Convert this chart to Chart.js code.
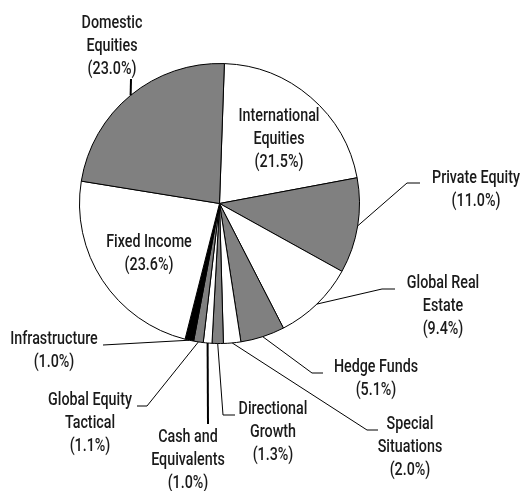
<!DOCTYPE html>
<html>
<head>
<meta charset="utf-8">
<script src="https://cdn.jsdelivr.net/npm/chart.js@4/dist/chart.umd.min.js"></script>
<style>
  html, body { margin: 0; padding: 0; background: #fff; }
  #wrap { width: 526px; height: 491px; }
</style>
</head>
<body>
<div id="wrap"><canvas id="myPieChart" width="526" height="491"></canvas></div>
<script>
// PIE CHART - asset allocation

var categories = [
  "International Equities",
  "Private Equity",
  "Global Real Estate",
  "Hedge Funds",
  "Special Situations",
  "Directional Growth",
  "Cash and Equivalents",
  "Global Equity Tactical",
  "Infrastructure",
  "Fixed Income",
  "Domestic Equities",
];
var allocation = [21.5, 11.0, 9.4, 5.1, 2.0, 1.3, 1.0, 1.1, 1.0, 23.6, 23.0];
var labelLines = [
  ["International", "Equities"],
  ["Private Equity"],
  ["Global Real", "Estate"],
  ["Hedge Funds"],
  ["Special", "Situations"],
  ["Directional", "Growth"],
  ["Cash and", "Equivalents"],
  ["Global Equity", "Tactical"],
  ["Infrastructure"],
  ["Fixed Income"],
  ["Domestic", "Equities"],
];

var WHITE = "#ffffff", GRAY = "#808080", BLACK = "#000000";
var sliceColors = [WHITE, GRAY, WHITE, GRAY, WHITE, GRAY, WHITE, GRAY, BLACK, WHITE, GRAY];

// where each label sits (text centre of first line) and its leader line path
var labelLayout = [
  { x: 279, y: 116, path: [] },
  { x: 476, y: 178, path: [[407, 183], [420, 183]] },
  { x: 443, y: 283, path: [[382, 289], [395, 289]] },
  { x: 376, y: 367, path: [[312, 373], [323, 373]] },
  { x: 410, y: 424, path: [[367, 430], [378, 430]] },
  { x: 273, y: 409, path: [[223, 415], [235, 415]] },
  { x: 188, y: 437, path: [[208, 424]], width: 2 },
  { x: 90, y: 400, path: [[147, 406], [137, 406]] },
  { x: 54, y: 339, path: [[103, 345]] },
  { x: 149, y: 242, path: [] },
  { x: 112, y: 23, path: [[131, 79]], width: 2 },
];

var labelPlugin = {
  id: "outsideLabels",
  afterDraw: function (chart) {
    var ctx = chart.ctx;
    var arcs = chart.getDatasetMeta(0).data;
    ctx.save();
    ctx.font = "500 18px Roboto, 'Liberation Sans', sans-serif";
    // condensed look: squeeze text so "International" is ~81px wide
    var squeeze = 81 / ctx.measureText("International").width;
    ctx.fillStyle = "#1a1a1a";
    ctx.textAlign = "center";
    ctx.textBaseline = "middle";
    arcs.forEach(function (arc, i) {
      var lay = labelLayout[i];
      if (lay.path.length) {
        var mid = (arc.startAngle + arc.endAngle) / 2;
        var ax = arc.x + Math.cos(mid) * arc.outerRadius;
        var ay = arc.y + Math.sin(mid) * arc.outerRadius;
        ctx.beginPath();
        ctx.lineWidth = lay.width || 1;
        ctx.strokeStyle = "#000";
        ctx.moveTo(ax, ay);
        lay.path.forEach(function (p) { ctx.lineTo(p[0], p[1]); });
        ctx.stroke();
      }
      var lines = labelLines[i].concat(["(" + allocation[i].toFixed(1) + "%)"]);
      lines.forEach(function (t, k) {
        ctx.save();
        ctx.translate(lay.x, lay.y + k * 23);
        ctx.scale(squeeze, 1);
        ctx.fillText(t, 0, 0);
        ctx.restore();
      });
    });
    ctx.restore();
  },
};

var pieChart = new Chart(document.getElementById("myPieChart"), {
  type: "pie",
  data: {
    labels: categories,
    datasets: [
      {
        data: allocation,
        backgroundColor: sliceColors,
        borderColor: "#000",
        borderWidth: 1,
      },
    ],
  },
  options: {
    responsive: false,
    animation: false,
    rotation: 2,
    layout: { padding: { left: 79, right: 166, top: 63, bottom: 147 } },
    plugins: {
      legend: { display: false },
      tooltip: { enabled: false },
    },
  },
  plugins: [labelPlugin],
});
</script>
</body>
</html>
